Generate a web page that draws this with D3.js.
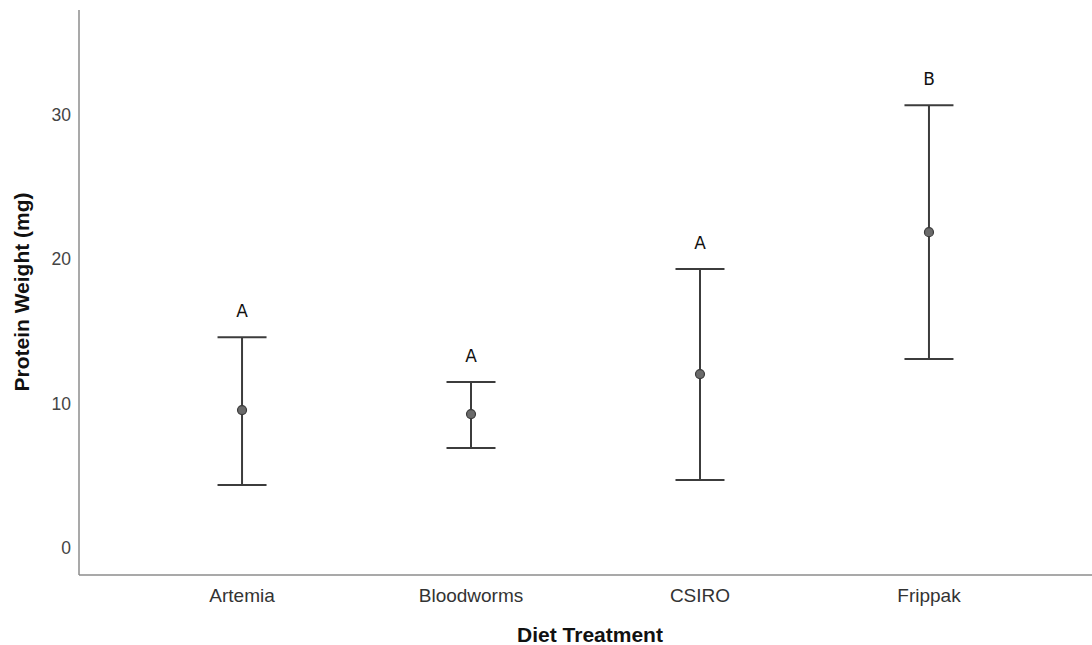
<!DOCTYPE html>
<html>
<head>
<meta charset="utf-8">
<script src="https://cdn.jsdelivr.net/npm/d3@7"></script>
<style>
  html, body { margin: 0; padding: 0; background: #fff; }
  svg { display: block; font-family: "Liberation Sans", Arial, sans-serif; }
</style>
</head>
<body>
<svg id="chart" width="1092" height="645"></svg>
<script>
// Diet treatments and protein weight summaries (mean with interval bounds)
const categories = ["Artemia", "Bloodworms", "CSIRO", "Frippak"];
const means = [9.55, 9.27, 12.04, 21.87];
const lowers = [4.36, 6.92, 4.71, 13.08];
const uppers = [14.6, 11.49, 19.31, 30.66];
const groupLetters = ["A", "A", "A", "B"];
const yTicks = [0, 10, 20, 30];

const svg = d3.select("#chart");
const plotLeft = 79, plotRight = 1092, plotTop = 10, plotBottom = 575;

const x = d3.scalePoint().domain(categories).range([plotLeft, plotRight]).padding(0.712);
const y = d3.scaleLinear().domain([-1.87, 37.25]).range([plotBottom, plotTop]);

const axisColor = "#8c8c8c";
const barColor = "#3c3c3c";

// Axis lines
svg.append("line").attr("x1", plotLeft).attr("x2", plotLeft).attr("y1", plotTop).attr("y2", plotBottom)
  .attr("stroke", axisColor).attr("stroke-width", 1.5);
svg.append("line").attr("x1", plotLeft).attr("x2", plotRight).attr("y1", plotBottom).attr("y2", plotBottom)
  .attr("stroke", axisColor).attr("stroke-width", 1.5);

// Y tick labels (no tick marks)
svg.append("g").selectAll("text").data(yTicks).join("text")
  .attr("x", plotLeft - 8).attr("y", d => y(d)).attr("dy", "0.36em")
  .attr("text-anchor", "end").attr("font-size", 17.5).attr("fill", "#444")
  .text(d => d);

// X tick labels
svg.append("g").selectAll("text").data(categories).join("text")
  .attr("x", d => x(d)).attr("y", 602)
  .attr("text-anchor", "middle").attr("font-size", 19).attr("fill", "#333")
  .text(d => d);

// Axis titles
svg.append("text").attr("x", 590).attr("y", 642).attr("text-anchor", "middle")
  .attr("font-size", 21).attr("font-weight", "bold").attr("fill", "#111")
  .text("Diet Treatment");
svg.append("text").attr("transform", "translate(29,292) rotate(-90)")
  .attr("text-anchor", "middle").attr("font-size", 21).attr("font-weight", "bold").attr("fill", "#111")
  .text("Protein Weight (mg)");

const data = categories.map((c, i) => ({ c, m: means[i], lo: lowers[i], hi: uppers[i], g: groupLetters[i] }));
const capHalf = 24.5;

const grp = svg.append("g").selectAll("g").data(data).join("g");
grp.append("line")
  .attr("x1", d => x(d.c)).attr("x2", d => x(d.c))
  .attr("y1", d => y(d.lo)).attr("y2", d => y(d.hi))
  .attr("stroke", barColor).attr("stroke-width", 2);
grp.append("line")
  .attr("x1", d => x(d.c) - capHalf).attr("x2", d => x(d.c) + capHalf)
  .attr("y1", d => y(d.hi)).attr("y2", d => y(d.hi))
  .attr("stroke", barColor).attr("stroke-width", 2);
grp.append("line")
  .attr("x1", d => x(d.c) - capHalf).attr("x2", d => x(d.c) + capHalf)
  .attr("y1", d => y(d.lo)).attr("y2", d => y(d.lo))
  .attr("stroke", barColor).attr("stroke-width", 2);
grp.append("circle")
  .attr("cx", d => x(d.c)).attr("cy", d => y(d.m)).attr("r", 4.5)
  .attr("fill", "#6a6a6a").attr("stroke", "#3a3a3a").attr("stroke-width", 1.2);
grp.append("text")
  .attr("x", d => x(d.c)).attr("y", d => y(d.hi) - 20)
  .attr("text-anchor", "middle").attr("font-size", 17).attr("fill", "#111")
  .attr("font-family", "'DejaVu Sans', sans-serif")
  .text(d => d.g);
</script>
</body>
</html>
